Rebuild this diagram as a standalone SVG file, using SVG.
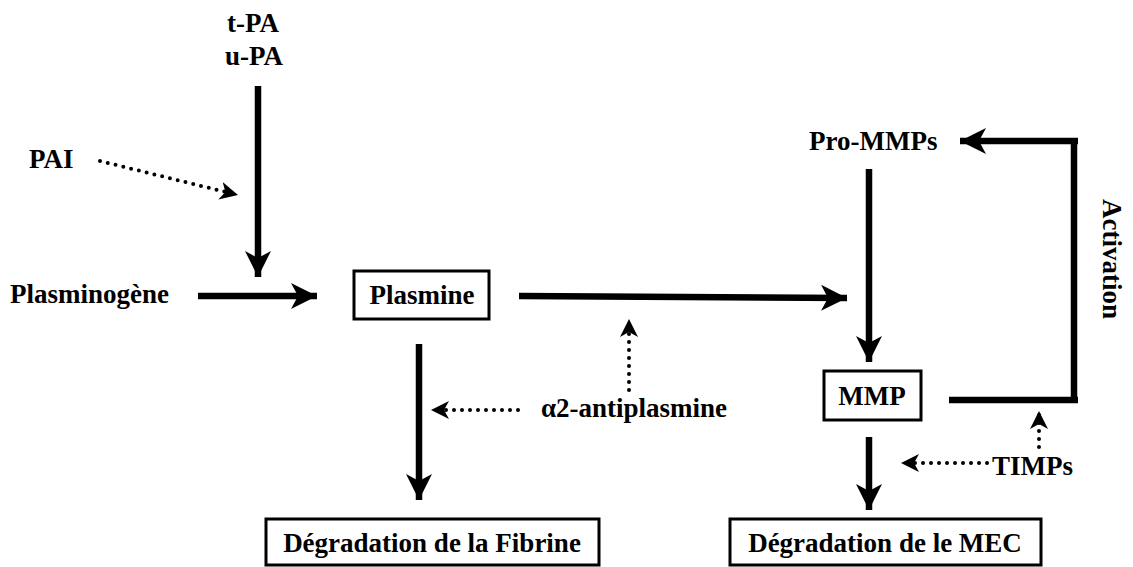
<svg xmlns="http://www.w3.org/2000/svg" width="1133" height="567" viewBox="0 0 1133 567">
<style>
text{font-family:"Liberation Serif","Times New Roman",serif;font-weight:bold;font-size:27px;fill:#000}
.box{fill:#fff;stroke:#000;stroke-width:3}
.solid{fill:none;stroke:#000;stroke-width:6.5}
.dot{fill:none;stroke:#000;stroke-width:4;stroke-linecap:round;stroke-dasharray:0 8}
.mid{text-anchor:middle}
</style>
<defs>
<marker id="big" markerUnits="userSpaceOnUse" markerWidth="30" markerHeight="30" refX="26" refY="13" orient="auto" viewBox="0 0 30 26">
<path d="M26,13 L0,0 L7,13 L0,26 Z" fill="#000"/>
</marker>
<marker id="small" markerUnits="userSpaceOnUse" markerWidth="20" markerHeight="20" refX="18" refY="9" orient="auto" viewBox="0 0 20 18">
<path d="M18,9 L0,0 L5,9 L0,18 Z" fill="#000"/>
</marker>
</defs>
<g id="connectors">
<line class="solid" x1="258" y1="86" x2="258" y2="277" marker-end="url(#big)"/>
<line class="dot" x1="100" y1="161" x2="238" y2="195" marker-end="url(#small)"/>
<line class="solid" x1="198" y1="296" x2="317" y2="296" marker-end="url(#big)"/>
<line class="solid" x1="519" y1="296" x2="847" y2="298" marker-end="url(#big)"/>
<line class="dot" x1="629" y1="390" x2="629" y2="319" marker-end="url(#small)"/>
<line class="solid" x1="419" y1="344" x2="419" y2="500" marker-end="url(#big)"/>
<line class="dot" x1="518" y1="410" x2="431" y2="410" marker-end="url(#small)"/>
<line class="solid" x1="869" y1="169" x2="869" y2="362" marker-end="url(#big)"/>
<polyline class="solid" points="949,400 1078,400 1074,400 1074,141 1078,141 960,141" marker-end="url(#big)"/>
<line class="dot" x1="1039" y1="447" x2="1039" y2="411" marker-end="url(#small)"/>
<line class="dot" x1="987" y1="463" x2="901" y2="463" marker-end="url(#small)"/>
<line class="solid" x1="869" y1="437" x2="869" y2="510" marker-end="url(#big)"/>
</g>
<g id="tpa"><text x="227" y="32">t-PA</text><text x="225" y="65">u-PA</text></g>
<g id="pai"><text x="29" y="168">PAI</text></g>
<g id="plasminogene"><text x="10" y="303">Plasminogène</text></g>
<g id="plasmine"><rect class="box" x="354" y="271" width="135" height="48"/><text class="mid" x="422" y="304">Plasmine</text></g>
<g id="antiplasmine"><text x="541" y="417">α2-antiplasmine</text></g>
<g id="fibrine"><rect class="box" x="266" y="519" width="333" height="46"/><text class="mid" x="432" y="552">Dégradation de la Fibrine</text></g>
<g id="prommps"><text x="809" y="150">Pro-MMPs</text></g>
<g id="mmp"><rect class="box" x="824" y="371" width="97" height="49"/><text class="mid" x="872" y="405">MMP</text></g>
<g id="activation"><text class="mid" transform="translate(1103,259) rotate(90)">Activation</text></g>
<g id="timps"><text x="992" y="475">TIMPs</text></g>
<g id="mec"><rect class="box" x="730" y="519" width="311" height="46"/><text class="mid" x="885" y="552">Dégradation de le MEC</text></g>
</svg>
